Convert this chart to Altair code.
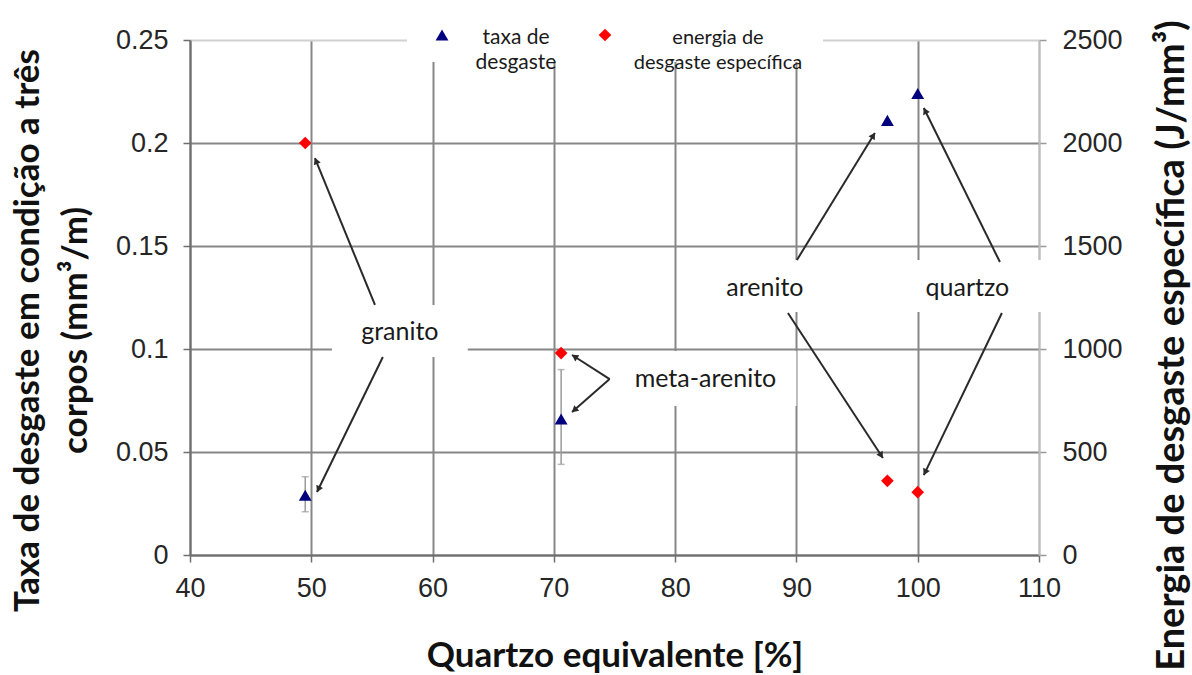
import math
import altair as alt
import pandas as pd

# ---------------- values ----------------
rocks = ["granito", "meta-arenito", "arenito", "quartzo"]
quartz_eq = [49.5, 70.6, 97.5, 100.0]          # Quartzo equivalente [%]
wear_rate = [0.029, 0.066, 0.211, 0.224]        # taxa de desgaste (mm3/m)
wear_low = [0.021, 0.044, None, None]
wear_high = [0.038, 0.090, None, None]
spec_energy = [2000, 980, 360, 305]             # energia de desgaste específica (J/mm3)

x_ticks = [40, 50, 60, 70, 80, 90, 100, 110]
y_left_ticks = [0, 0.05, 0.1, 0.15, 0.2, 0.25]
y_right_ticks = [0, 500, 1000, 1500, 2000, 2500]

legend_lines = [["taxa de", "desgaste"], ["energia de", "desgaste específica"]]

# annotation labels (data coordinates on the left axis)
ann_text = ["granito", "meta-arenito", "arenito", "quartzo"]
ann_x = [57.3, 82.5, 87.4, 104.1]
ann_y = [0.1083, 0.0854, 0.1296, 0.1296]
# white boxes behind the labels
box_x1 = [51.7, 75.2, 82.4]
box_x2 = [62.9, 90.0, 110.25]
box_y1 = [0.0961, 0.0723, 0.1180]
box_y2 = [0.1214, 0.0990, 0.1432]
# arrows: from label to point
arr_x1 = [55.25, 55.90, 74.60, 74.60, 90.04, 89.30, 106.78, 106.94]
arr_y1 = [0.1214, 0.0961, 0.0854, 0.0854, 0.1432, 0.1175, 0.1422, 0.1175]
arr_x2 = [50.30, 50.47, 71.50, 71.50, 96.47, 97.13, 100.50, 100.50]
arr_y2 = [0.1927, 0.0306, 0.0971, 0.0694, 0.2049, 0.0471, 0.2170, 0.0388]

# ---------------- layout ----------------
PLOT_W, PLOT_H = 849, 515
X_DOM, YL_DOM, YR_DOM = [40, 110], [0, 0.25], [0, 2500]
GRID = "#878787"
AXIS = "#6e6e6e"
LABEL_C = "#262626"
TITLE_FONT = "Lato"
TICK_FONT = "Liberation Sans"

xscale = alt.Scale(domain=X_DOM, nice=False, zero=False)
ylscale = alt.Scale(domain=YL_DOM, nice=False, zero=False)
yrscale = alt.Scale(domain=YR_DOM, nice=False, zero=False)

xaxis = alt.Axis(
    values=x_ticks, format="d", title="Quartzo equivalente [%]",
    grid=True, gridColor={"condition": {"test": "datum.value >= 110", "value": "#c8c8c8"}, "value": GRID},
    gridWidth=2, domainColor=AXIS, domainWidth=2, tickColor=AXIS, tickWidth=1.5, tickSize=7,
    labelFont=TICK_FONT, labelFontSize=27, labelColor=LABEL_C, labelPadding=13, labelFlush=False,
    titleFont=TITLE_FONT, titleFontSize=35, titleFontWeight="bold", titleColor="#111111",
    titleBaseline="alphabetic", titleY=111,
)
yaxis_l = alt.Axis(
    values=y_left_ticks, format="~r",
    title=["Taxa de desgaste em condição a três", "corpos  (mm³/m)"],
    grid=True, gridColor={"condition": {"test": "datum.value >= 0.2499", "value": "#d0d0d0"}, "value": GRID},
    gridWidth=2, domainColor=AXIS, domainWidth=2, tickColor=AXIS, tickWidth=1.5, tickSize=7,
    labelFont=TICK_FONT, labelFontSize=27, labelColor=LABEL_C, labelPadding=15, labelFlush=False,
    titleFont=TITLE_FONT, titleFontSize=35, titleFontWeight="bold", titleColor="#111111",
    titleAngle=270, titleAlign="center", titleBaseline="alphabetic",
    titleX=-152, titleY=290, titleLineHeight=48,
)
yaxis_r = alt.Axis(
    orient="right", values=y_right_ticks, format="d",
    title="Energia de desgaste específica (J/mm³)", grid=False,
    domainColor="#bdbdbd", domainWidth=2, tickColor="#9a9a9a", tickWidth=1.5, tickSize=7,
    labelFont=TICK_FONT, labelFontSize=27, labelColor=LABEL_C, labelPadding=16, labelFlush=False,
    titleFont=TITLE_FONT, titleFontSize=38, titleFontWeight="bold", titleColor="#111111",
    titleAngle=270, titleAlign="center", titleBaseline="alphabetic",
    titleX=144, titleY=305,
)


def X(f):
    return alt.X(f"{f}:Q", scale=xscale, axis=xaxis)


def YL(f):
    return alt.Y(f"{f}:Q", scale=ylscale, axis=yaxis_l)


# ---------------- tables ----------------
pts = pd.DataFrame({"rocha": rocks, "q": quartz_eq, "taxa": wear_rate,
                    "lo": wear_low, "hi": wear_high, "energia": spec_energy})
err = pts.dropna(subset=["lo"])
caps = pd.concat([err[["q"]].assign(v=err["lo"]), err[["q"]].assign(v=err["hi"])])
boxes_df = pd.DataFrame({"x1": box_x1, "x2": box_x2, "y1": box_y1, "y2": box_y2})
ann_df = pd.DataFrame({"t": ann_text, "x": ann_x, "y": ann_y})

sx = PLOT_W / (X_DOM[1] - X_DOM[0])
sy = PLOT_H / (YL_DOM[1] - YL_DOM[0])
BACK = 3.0
hx, hy, ang = [], [], []
for x1, y1, x2, y2 in zip(arr_x1, arr_y1, arr_x2, arr_y2):
    dxp, dyp = (x2 - x1) * sx, -(y2 - y1) * sy
    L = math.hypot(dxp, dyp)
    ux, uy = dxp / L, dyp / L
    ang.append(math.degrees(math.atan2(ux, -uy)) % 360)
    hx.append(x2 - BACK * ux / sx)
    hy.append(y2 + BACK * uy / sy)
arr_df = pd.DataFrame({"x1": arr_x1, "y1": arr_y1, "x2": arr_x2, "y2": arr_y2,
                       "hx": hx, "hy": hy, "ang": ang})
one = pd.DataFrame({"k": [0]})

# ---------------- layers ----------------
boxes = alt.Chart(boxes_df).mark_rect(color="white").encode(
    x=X("x1"), x2=alt.X2("x2:Q"), y=YL("y1"), y2=alt.Y2("y2:Q"))
legend_bg = alt.Chart(one).mark_rect(color="white").encode(
    x=alt.value(217), x2=alt.value(633), y=alt.value(-40), y2=alt.value(22))
errbar = alt.Chart(err).mark_rule(color="#9b9b9b", strokeWidth=1.5).encode(
    x=X("q"), y=YL("lo"), y2=alt.Y2("hi:Q"))
errcap = alt.Chart(caps).mark_tick(orient="horizontal", size=7, thickness=1.5, color="#9b9b9b").encode(
    x=X("q"), y=YL("v"))
arrows = alt.Chart(arr_df).mark_rule(color="#2a2a2a", strokeWidth=2).encode(
    x=X("x1"), x2=alt.X2("x2:Q"), y=YL("y1"), y2=alt.Y2("y2:Q"))
heads = alt.Chart(arr_df).mark_point(shape="triangle-up", filled=True, size=55, color="#2a2a2a",
                                     opacity=1, strokeWidth=0).encode(
    x=X("hx"), y=YL("hy"), angle=alt.Angle("ang:Q", scale=None))
labels = alt.Chart(ann_df).mark_text(font=TITLE_FONT, fontSize=25, color="#1a1a1a").encode(
    x=X("x"), y=YL("y"), text="t:N")
tri = alt.Chart(pts).mark_point(shape="triangle-up", filled=True, size=165, color="#00007f",
                                opacity=1, strokeWidth=0).encode(x=X("q"), y=YL("taxa"))

leg_tri = alt.Chart(one).mark_point(shape="triangle-up", filled=True, size=165, color="#00007f",
                                    opacity=1, strokeWidth=0).encode(x=alt.value(252), y=alt.value(-5))
leg_dia = alt.Chart(one).mark_point(shape="diamond", filled=True, size=160, color="#ff0000",
                                    opacity=1, strokeWidth=0).encode(x=alt.value(415), y=alt.value(-5))
leg_t1 = alt.Chart(one).mark_text(text=legend_lines[0], font=TITLE_FONT, fontSize=21, lineHeight=25,
                                  baseline="middle", align="center", color="#1a1a1a").encode(
    x=alt.value(326), y=alt.value(-2))
leg_t2 = alt.Chart(one).mark_text(text=legend_lines[1], font=TITLE_FONT, fontSize=20, lineHeight=25,
                                  baseline="middle", align="center", color="#1a1a1a").encode(
    x=alt.value(528), y=alt.value(-2))

dia = alt.Chart(pts).mark_point(shape="diamond", filled=True, size=160, color="#ff0000",
                                opacity=1, strokeWidth=0).encode(
    x=X("q"), y=alt.Y("energia:Q", scale=yrscale, axis=yaxis_r))

left = alt.layer(boxes, legend_bg, errbar, errcap, arrows, heads, labels, tri,
                 leg_tri, leg_dia, leg_t1, leg_t2)

chart = (
    alt.layer(left, dia)
    .resolve_scale(y="independent")
    .properties(width=PLOT_W, height=PLOT_H,
                autosize=alt.AutoSizeParams(type="none"),
                padding={"left": 190, "top": 40, "right": 153, "bottom": 120},
                background="white")
    .configure_view(stroke=None)
)

chart.save("out.html", embed_options={"renderer": "svg", "actions": False})
